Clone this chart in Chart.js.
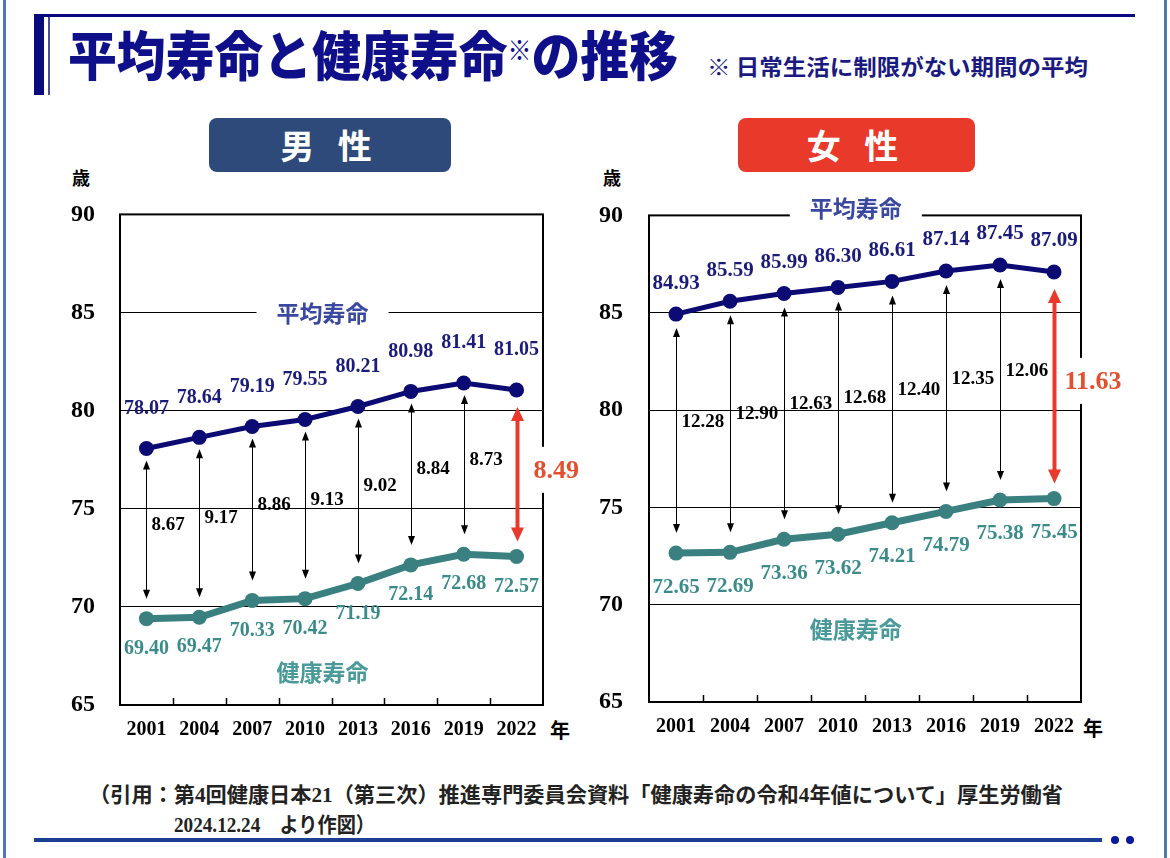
<!DOCTYPE html>
<html lang="ja">
<head>
<meta charset="utf-8">
<script src="https://cdn.jsdelivr.net/npm/chart.js@4.4.1/dist/chart.umd.min.js"></script>
<style>
  html, body { margin: 0; padding: 0; background: #fff; }
  body { width: 1170px; height: 858px; position: relative; overflow: hidden;
         font-family: 'Noto Sans CJK JP', 'Noto Sans', sans-serif; }
  .abs { position: absolute; }
  .bar { position: absolute; }
  .txt { position: absolute; white-space: nowrap; transform-origin: left center; }
  .serif { font-family: 'Liberation Serif', serif; }
  .badge { position: absolute; border-radius: 8px; color: #fff; font-weight: 700;
           font-size: 34px; text-align: center; letter-spacing: 8px; }
  .unit { position: absolute; font-weight: 700; color: #000; white-space: nowrap; }
</style>
</head>
<body>
  <!-- page frame -->
  <div class="bar" style="left:3px;top:0;width:3px;height:858px;background:#5079b2"></div>
  <div class="bar" style="left:1164px;top:0;width:3px;height:858px;background:#5079b2"></div>

  <!-- title block -->
  <div class="bar" style="left:34px;top:14px;width:1101px;height:3px;background:#0a0a80"></div>
  <div class="bar" style="left:34px;top:14px;width:10px;height:81px;background:#0a0a80"></div>
  <div class="bar" style="left:48px;top:17px;width:2px;height:78px;background:#4a4aa0"></div>
  <div id="title" class="txt" style="left:68px;top:27px;height:52px;line-height:52px;font-size:53px;font-weight:900;color:#0f1089">平均寿命と健康寿命<span style="font-size:26px;position:relative;top:-16px;font-weight:400">※</span>の推移</div>
  <div id="sub" class="txt" style="left:707px;top:52px;height:26px;line-height:26px;font-size:22px;font-weight:700;color:#1a1a80">※ 日常生活に制限がない期間の平均</div>

  <!-- badges -->
  <div class="badge" style="left:209px;top:118px;width:242px;height:54px;line-height:54px;background:#2d4a7a">男 性</div>
  <div class="badge" style="left:738px;top:118px;width:237px;height:54px;line-height:54px;background:#e8392a">女 性</div>

  <!-- units -->
  <div class="unit" style="left:72px;top:165px;font-size:18px;line-height:24px">歳</div>
  <div class="unit" style="left:603px;top:165px;font-size:18px;line-height:24px">歳</div>
  <div class="unit" style="left:550px;top:718px;font-size:20px;line-height:24px">年</div>
  <div class="unit" style="left:1083px;top:716px;font-size:20px;line-height:24px">年</div>

  <!-- charts -->
  <canvas id="maleChart" class="abs" width="560" height="585" style="left:40px;top:175px"></canvas>
  <canvas id="femaleChart" class="abs" width="595" height="585" style="left:570px;top:175px"></canvas>

  <!-- source note -->
  <div id="note1" class="txt" style="left:89px;top:780px;height:26px;line-height:26px;font-size:21px;font-weight:700;color:#222">（引用：第<span class="serif">4</span>回健康日本<span class="serif">21</span>（第三次）推進専門委員会資料「健康寿命の令和<span class="serif">4</span>年値について」厚生労働省</div>
  <div id="note2" class="txt" style="left:174px;top:810px;height:26px;line-height:26px;font-size:21px;font-weight:700;color:#222"><span class="serif">2024.12.24</span>　より作図）</div>

  <!-- bottom rule -->
  <div class="bar" style="left:34px;top:838px;width:1068px;height:4px;background:#1c3f94"></div>
  <div class="bar" style="left:1111px;top:836px;width:8px;height:8px;border-radius:50%;background:#0a1a9a"></div>
  <div class="bar" style="left:1126px;top:836px;width:8px;height:8px;border-radius:50%;background:#0a1a9a"></div>

<script>
// --- DATA ---
const years = ['2001', '2004', '2007', '2010', '2013', '2016', '2019', '2022'];

const maleLife    = [78.07, 78.64, 79.19, 79.55, 80.21, 80.98, 81.41, 81.05];
const maleHealthy = [69.40, 69.47, 70.33, 70.42, 71.19, 72.14, 72.68, 72.57];
const maleGap     = [8.67, 9.17, 8.86, 9.13, 9.02, 8.84, 8.73, 8.49];

const femaleLife    = [84.93, 85.59, 85.99, 86.30, 86.61, 87.14, 87.45, 87.09];
const femaleHealthy = [72.65, 72.69, 73.36, 73.62, 74.21, 74.79, 75.38, 75.45];
const femaleGap     = [12.28, 12.90, 12.63, 12.68, 12.40, 12.35, 12.06, 11.63];

const yMin = 65, yMax = 90, yStep = 5;

// --- HELPERS ---

// squeeze a text block to a given width (the original uses condensed fonts)
function fitWidth(id, target) {
    const el = document.getElementById(id);
    const w = el.getBoundingClientRect().width;
    el.style.transform = 'scaleX(' + (target / w) + ')';
}
fitWidth('title', 610);
fitWidth('sub', 381);
fitWidth('note1', 974);
fitWidth('note2', 201);

function drawArrow(ctx, x, y1, y2, headLen, headW, lw, color) {
    ctx.strokeStyle = color;
    ctx.fillStyle = color;
    ctx.lineWidth = lw;
    ctx.beginPath();
    ctx.moveTo(x, y1 + headLen - 1);
    ctx.lineTo(x, y2 - headLen + 1);
    ctx.stroke();
    ctx.beginPath();
    ctx.moveTo(x, y1);
    ctx.lineTo(x - headW / 2, y1 + headLen);
    ctx.lineTo(x + headW / 2, y1 + headLen);
    ctx.closePath();
    ctx.fill();
    ctx.beginPath();
    ctx.moveTo(x, y2);
    ctx.lineTo(x - headW / 2, y2 - headLen);
    ctx.lineTo(x + headW / 2, y2 - headLen);
    ctx.closePath();
    ctx.fill();
}

const serifBold = px => 'bold ' + px + 'px "Liberation Serif", "Times New Roman", serif';
const gothicBold = px => 'bold ' + px + 'px "Noto Sans CJK JP", sans-serif';

// frame, inner ticks, gap arrows, series names and data labels
const lifeAnno = {
    id: 'lifeAnno',
    beforeDatasetsDraw(chart, args, o) {
        const { ctx, chartArea: a, scales: { x, y } } = chart;
        const life = chart.data.datasets[0].data;
        const healthy = chart.data.datasets[1].data;
        ctx.save();

        // plot frame
        ctx.strokeStyle = '#000';
        ctx.lineWidth = 2;
        ctx.strokeRect(a.left, a.top, a.right - a.left, a.bottom - a.top);

        // small ticks between categories, pointing inwards
        ctx.lineWidth = 1.5;
        for (let i = 1; i < years.length; i++) {
            const px = Math.round((x.getPixelForValue(i - 1) + x.getPixelForValue(i)) / 2) + 0.5;
            ctx.beginPath();
            ctx.moveTo(px, a.bottom);
            ctx.lineTo(px, a.bottom - 7);
            ctx.stroke();
        }

        // double arrows + gap values
        o.gap.forEach((g, i) => {
            const px = Math.round(x.getPixelForValue(i)) + 0.5;
            const last = i === o.gap.length - 1;
            const top = y.getPixelForValue(life[i]) + (last ? 17 : o.gapTop);
            const bot = y.getPixelForValue(healthy[i]) - (last ? 15 : 20);
            const ly = y.getPixelForValue(healthy[i] + g * (last ? 0.52 : 0.55));
            if (last) {
                drawArrow(ctx, px, top, bot, 14, 13, 4, '#e8392a');
                ctx.font = serifBold(26);
                const tw = ctx.measureText(g.toFixed(2)).width;
                const lx = px + o.redDx;
                ctx.fillStyle = '#fff';
                ctx.fillRect(lx - 5, ly - 23, tw + 10, 46);
                ctx.fillStyle = '#e4502f';
                ctx.textAlign = 'left';
                ctx.textBaseline = 'middle';
                ctx.fillText(g.toFixed(2), lx, ly + 1);
            } else {
                drawArrow(ctx, px, top, bot, 9, 7, 1, '#000');
                ctx.font = serifBold(19);
                ctx.fillStyle = '#000';
                ctx.textAlign = 'left';
                ctx.textBaseline = 'middle';
                ctx.fillText(g.toFixed(2), px + 5, ly);
            }
        });

        // series names sitting on a white patch over the lines
        o.names.forEach(n => {
            const nx = x.getPixelForValue(n.x);
            const ny = y.getPixelForValue(n.y);
            ctx.font = gothicBold(23);
            const tw = ctx.measureText(n.text).width;
            ctx.fillStyle = '#fff';
            ctx.fillRect(nx - tw / 2 - 20, ny - 15, tw + 40, 30);
            ctx.fillStyle = n.color;
            ctx.textAlign = 'center';
            ctx.textBaseline = 'middle';
            ctx.fillText(n.text, nx, ny + 1);
        });
        ctx.restore();
    },
    afterDatasetsDraw(chart, args, o) {
        const { ctx, scales: { x, y } } = chart;
        const life = chart.data.datasets[0].data;
        const healthy = chart.data.datasets[1].data;
        ctx.save();
        ctx.font = serifBold(o.valueSize);
        ctx.textAlign = 'center';
        ctx.textBaseline = 'middle';
        life.forEach((v, i) => {
            ctx.fillStyle = '#1b1b7c';
            ctx.fillText(v.toFixed(2), x.getPixelForValue(i), y.getPixelForValue(v) - o.lifeOffset);
        });
        healthy.forEach((v, i) => {
            ctx.fillStyle = '#3b8b8b';
            ctx.fillText(v.toFixed(2), x.getPixelForValue(i), y.getPixelForValue(v) + o.healthyOffset);
        });
        ctx.restore();
    }
};

function makeChart(id, life, healthy, gap, cfg) {
    const ctx = document.getElementById(id).getContext('2d');
    return new Chart(ctx, {
        type: 'line',
        data: {
            labels: years,
            datasets: [{
                label: '平均寿命',
                data: life,
                borderColor: '#0b0b73',
                backgroundColor: '#0b0b73',
                borderWidth: 5,
                pointRadius: 7.5,
                pointBorderWidth: 0,
                tension: 0
            }, {
                label: '健康寿命',
                data: healthy,
                borderColor: '#3a8080',
                backgroundColor: '#3a8080',
                borderWidth: 7,
                pointRadius: 7.5,
                pointBorderWidth: 0,
                tension: 0
            }]
        },
        options: {
            responsive: false,
            animation: false,
            layout: { padding: cfg.padding },
            scales: {
                x: {
                    offset: true,
                    grid: { display: false, drawTicks: false },
                    border: { display: false },
                    ticks: {
                        color: '#000',
                        font: { family: '"Liberation Serif", serif', size: 20, weight: 'bold' },
                        padding: cfg.xPad,
                        maxRotation: 0,
                        autoSkip: false
                    },
                    afterFit: s => { s.height = 40; }
                },
                y: {
                    min: yMin,
                    max: yMax,
                    grid: { color: '#000', lineWidth: 1, drawTicks: false },
                    border: { display: false },
                    ticks: {
                        stepSize: yStep,
                        color: '#000',
                        font: { family: '"Liberation Serif", serif', size: 24, weight: 'bold' },
                        padding: cfg.yPad
                    },
                    afterFit: s => { s.width = cfg.yWidth; }
                }
            },
            plugins: {
                legend: { display: false },
                tooltip: { enabled: false },
                lifeAnno: {
                    gap: gap,
                    gapTop: cfg.gapTop,
                    redDx: cfg.redDx,
                    valueSize: cfg.valueSize,
                    lifeOffset: cfg.lifeOffset,
                    healthyOffset: cfg.healthyOffset,
                    names: cfg.names
                }
            }
        },
        plugins: [lifeAnno]
    });
}

// 1. MALE
makeChart('maleChart', maleLife, maleHealthy, maleGap, {
    padding: { left: 0, right: 57, top: 39, bottom: 15 },
    yWidth: 80, yPad: 25, xPad: 13,
    gapTop: 12, redDx: 16,
    valueSize: 20, lifeOffset: 40, healthyOffset: 30,
    names: [
        { text: '平均寿命', x: 3.33, y: 85, color: '#3a48a0' },
        { text: '健康寿命', x: 3.33, y: 66.7, color: '#4a9a9a' }
    ]
});

// 2. FEMALE
makeChart('femaleChart', femaleLife, femaleHealthy, femaleGap, {
    padding: { left: 0, right: 84, top: 37, bottom: 18 },
    yWidth: 79, yPad: 26, xPad: 13,
    gapTop: 14, redDx: 10,
    valueSize: 21, lifeOffset: 31, healthyOffset: 34,
    names: [
        { text: '平均寿命', x: 3.33, y: 90.4, color: '#3a48a0' },
        { text: '健康寿命', x: 3.33, y: 68.8, color: '#4a9a9a' }
    ]
});
</script>
</body>
</html>
